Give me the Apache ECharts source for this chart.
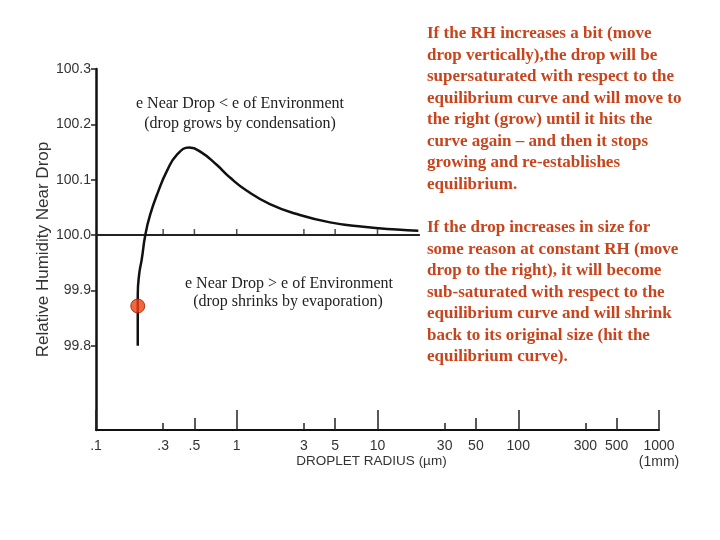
<!DOCTYPE html>
<html>
<head>
<meta charset="utf-8">
<script src="https://cdn.jsdelivr.net/npm/echarts@6/dist/echarts.min.js"></script>
<style>
html,body{margin:0;padding:0;background:#fff;}
#main{width:720px;height:540px;}
</style>
</head>
<body>
<div id="main"></div>
<script>
// equilibrium curve: droplet radius (um) / RH near drop (%)
var radius = [0.198, 0.198, 0.198, 0.203, 0.211, 0.224, 0.242, 0.277, 0.318, 0.375, 0.460, 0.564, 0.720, 0.895, 1.18, 1.72, 2.67, 4.60, 7.93, 13.7, 19.5];
var rh     = [99.800, 99.872, 99.892, 99.931, 99.955, 100.0, 100.036, 100.079, 100.115, 100.145, 100.158, 100.149, 100.127, 100.104, 100.080, 100.056, 100.038, 100.023, 100.015, 100.010, 100.008];

// the drop (red dot)
var dropRadius = 0.198;
var dropRh = 99.872;

// horizontal 100% line and the little ticks on it
var refLine = [0.1, 20];
var refRh = 100.0;
var refTicks = [0.3, 0.5, 1, 3, 5, 10];

// x axis (log radius) ticks and labels
var xLongTicks = [0.1, 1, 10, 100, 1000];
var xMidTicks = [0.5, 5, 50, 500];
var xShortTicks = [0.3, 3, 30, 300];
var xLabelVals = [0.1, 0.3, 0.5, 1, 3, 5, 10, 30, 50, 100, 300, 500, 1000];
var xLabels = ['.1', '.3', '.5', '1', '3', '5', '10', '30', '50', '100', '300', '500', '1000\n(1mm)'];

// y axis ticks
var yTicks = [99.8, 99.9, 100.0, 100.1, 100.2, 100.3];

var textBlock1 = [
	'If the RH increases a bit (move',
	'drop vertically),the drop will be',
	'supersaturated with respect to the',
	'equilibrium curve and will move to',
	'the right (grow) until it hits the',
	'curve again \u2013 and then it stops',
	'growing and re-establishes',
	'equilibrium.'
];
var textBlock2 = [
	'If the drop increases in size for',
	'some reason at constant RH (move',
	'drop to the right), it will become',
	'sub-saturated with respect to the',
	'equilibrium curve and will shrink',
	'back to its original size (hit the',
	'equilibrium curve).'
];

function lg(v){ return Math.log10(v); }

function xLabel(v){
	for(var i=0; i<xLabelVals.length; i++){
		if(Math.abs(lg(xLabelVals[i]) - v) < 1e-6) return xLabels[i];
	}
	return '';
}

function drawChart(id){
	var myChart = echarts.init(document.getElementById(id));
	var curve = [];
	for(var i=0; i<radius.length; i++){
		curve.push([lg(radius[i]), rh[i]]);
	}
	var ticksOnLine = [];
	for(var i=0; i<refTicks.length; i++){
		ticksOnLine.push([lg(refTicks[i]), refRh]);
	}
	var sans = '"Liberation Sans", Arial, sans-serif';
	var serif = '"Liberation Serif", "Times New Roman", serif';

	var baseX = {
		type: 'value',
		min: -1,
		max: 3,
		position: 'bottom',
		axisLine: { show: false, onZero: false },
		splitLine: { show: false },
		axisLabel: { show: false },
		axisTick: { show: true, inside: true, lineStyle: { color: '#222', width: 1.5 } }
	};

	var option = {
		animation: false,
		backgroundColor: '#fff',
		textStyle: { fontFamily: sans },
		grid: {
			left: 96,
			right: 61,
			top: 69,
			bottom: 110,
			containLabel: false,
			outerBoundsMode: 'none'
		},
		xAxis: [
			{
				type: 'value',
				min: -1,
				max: 3,
				position: 'bottom',
				axisLine: { show: true, onZero: false, lineStyle: { color: '#111', width: 2 } },
				splitLine: { show: false },
				axisTick: {
					show: true,
					inside: true,
					length: 20,
					customValues: xLongTicks.map(lg),
					lineStyle: { color: '#222', width: 1.5 }
				},
				axisLabel: {
					show: true,
					customValues: xLabelVals.map(lg),
					formatter: xLabel,
					fontSize: 14,
					color: '#333',
					margin: 8,
					lineHeight: 16,
					fontFamily: sans
				},
				name: 'DROPLET RADIUS (\u00b5m)',
				nameLocation: 'middle',
				nameGap: 24,
				nameMoveOverlap: false,
				nameTextStyle: { fontSize: 13.5, color: '#333', fontFamily: sans, padding: [0, 12, 0, 0] }
			},
			echarts.util.merge({ axisTick: { length: 12, customValues: xMidTicks.map(lg) } }, baseX),
			echarts.util.merge({ axisTick: { length: 7, customValues: xShortTicks.map(lg) } }, baseX)
		],
		yAxis: {
			type: 'value',
			min: 99.648,
			max: 100.3,
			axisLine: { show: true, onZero: false, lineStyle: { color: '#111', width: 2.5 } },
			splitLine: { show: false },
			axisTick: {
				show: true,
				length: 5,
				customValues: yTicks,
				lineStyle: { color: '#222', width: 1.5 }
			},
			axisLabel: {
				customValues: yTicks,
				formatter: function(v){ return v.toFixed(1); },
				fontSize: 14,
				color: '#333',
				margin: 5,
				fontFamily: sans
			},
			name: 'Relative Humidity Near Drop',
			nameLocation: 'middle',
			nameRotate: 90,
			nameGap: 44,
			nameMoveOverlap: false,
			nameTextStyle: { fontSize: 17, color: '#333', fontFamily: sans }
		},
		series: [
			{
				name: '100% line',
				type: 'line',
				data: [[lg(refLine[0]), refRh], [lg(refLine[1]), refRh]],
				symbol: 'none',
				silent: true,
				lineStyle: { color: '#222', width: 2 }
			},
			{
				name: 'line ticks',
				type: 'scatter',
				data: ticksOnLine,
				symbol: 'rect',
				symbolSize: [1.5, 6],
				symbolOffset: [0, -3],
				silent: true,
				itemStyle: { color: '#222' }
			},
			{
				name: 'equilibrium',
				type: 'line',
				data: curve,
				smooth: 0.5,
				symbol: 'none',
				silent: true,
				lineStyle: { color: '#111', width: 2.5 }
			},
			{
				name: 'drop',
				type: 'scatter',
				data: [[lg(dropRadius), dropRh]],
				symbolSize: 14,
				z: 5,
				silent: true,
				itemStyle: { color: '#f0400f', borderColor: '#9a2000', borderWidth: 1 }
			}
		],
		graphic: [
			{ type: 'text', style: { x: 240, y: 104, text: 'e Near Drop < e of Environment', fontSize: 16, fontFamily: serif, fill: '#222', align: 'center', verticalAlign: 'middle' } },
			{ type: 'text', style: { x: 240, y: 124, text: '(drop grows by condensation)', fontSize: 16, fontFamily: serif, fill: '#222', align: 'center', verticalAlign: 'middle' } },
			{ type: 'text', style: { x: 289, y: 284, text: 'e Near Drop > e of Environment', fontSize: 16, fontFamily: serif, fill: '#222', align: 'center', verticalAlign: 'middle' } },
			{ type: 'text', style: { x: 288, y: 302, text: '(drop shrinks by evaporation)', fontSize: 16, fontFamily: serif, fill: '#222', align: 'center', verticalAlign: 'middle' } },
			{ type: 'text', style: { x: 427, y: 23, text: textBlock1.join('\n'), fontSize: 17, fontWeight: 'bold', lineHeight: 21.5, fontFamily: serif, fill: '#c8441c', align: 'left', verticalAlign: 'top' } },
			{ type: 'text', style: { x: 427, y: 217, text: textBlock2.join('\n'), fontSize: 17, fontWeight: 'bold', lineHeight: 21.5, fontFamily: serif, fill: '#c8441c', align: 'left', verticalAlign: 'top' } }
		]
	};
	myChart.setOption(option);
}

drawChart('main');
</script>
</body>
</html>
